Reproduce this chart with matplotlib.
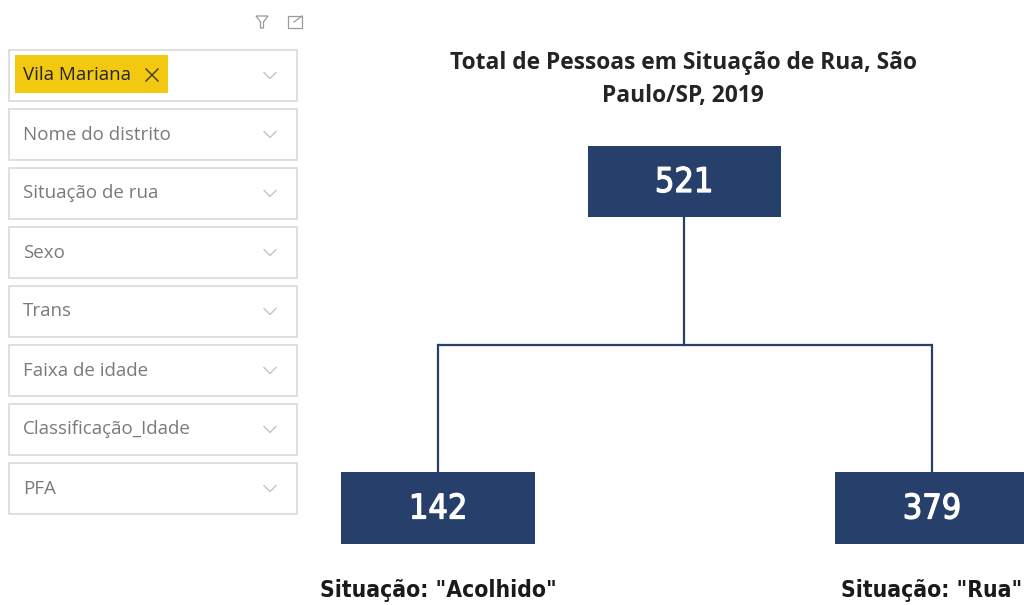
import matplotlib
matplotlib.use("Agg")
import matplotlib.pyplot as plt
import matplotlib.patheffects as pe
from matplotlib.patches import Rectangle, Polygon

# ---- data ----
title_lines = ["Total de Pessoas em Situação de Rua, São", "Paulo/SP, 2019"]
total_value = 521
child_values = [142, 379]
child_labels = ['Situação: "Acolhido"', 'Situação: "Rua"']
slicer_labels = ["Vila Mariana", "Nome do distrito", "Situação de rua", "Sexo",
                 "Trans", "Faixa de idade", "Classificação_Idade", "PFA"]

NAVY = "#263f6b"
num_fx = [pe.withStroke(linewidth=0.9, foreground="white")]

fig = plt.figure(figsize=(10.24, 6.05), dpi=100)
ax = fig.add_axes([0, 0, 1, 1])
ax.set_xlim(0, 1024)
ax.set_ylim(605, 0)
ax.axis("off")

# ---- slicer panel ----
box_x0, box_x1 = 9, 297
box_h = 51
step = 59
for i, lab in enumerate(slicer_labels):
    y0 = 50 + i * step
    ax.add_patch(Rectangle((box_x0, y0), box_x1 - box_x0, box_h, fill=False,
                           edgecolor="#d9d9d9", lw=1.2))
    cy = y0 + box_h / 2
    if i == 0:
        ax.add_patch(Rectangle((15, y0 + 5), 153, box_h - 13, facecolor="#f2c811",
                               edgecolor="none"))
        ax.text(23, cy - 1, lab, fontsize=13.5, family="Open Sans", color="#252423",
                va="center", ha="left")
        # x mark
        ax.plot([146, 158], [y0 + 19, y0 + 31], color="#3a3a3a", lw=1.0)
        ax.plot([146, 158], [y0 + 31, y0 + 19], color="#3a3a3a", lw=1.0)
    else:
        ax.text(23, cy, lab, fontsize=13.5, family="Open Sans", color="#7a7a7a",
                va="center", ha="left")
    # chevron
    ax.plot([264, 270, 276], [cy - 3, cy + 3, cy - 3], color="#c4c4c4", lw=1.0)

# filter icon
ax.add_patch(Polygon([[256, 16], [268, 16], [263.5, 22], [263.5, 28], [260.5, 28], [260.5, 22]],
                     closed=True, fill=False, edgecolor="#9a9a9a", lw=0.9))
# expand icon
ax.add_patch(Rectangle((288, 16), 14, 12, fill=False, edgecolor="#9a9a9a", lw=0.9))
ax.plot([294, 302], [22, 16], color="#9a9a9a", lw=0.9)

# ---- title ----
ax.text(683, 63, title_lines[0], fontsize=16.4, family="Open Sans", fontweight="bold",
        color="#252423", ha="center", va="center")
ax.text(683, 96, title_lines[1], fontsize=16.4, family="Open Sans", fontweight="bold",
        color="#252423", ha="center", va="center")

# ---- tree ----
top_cx, top_y0, top_y1 = 684, 146, 217
ax.add_patch(Rectangle((588, top_y0), 193, top_y1 - top_y0, facecolor=NAVY, edgecolor="none"))
ax.text(top_cx, (top_y0 + top_y1) / 2 + 1, str(total_value), fontsize=24.5, color="white",
        family="DejaVu Sans", fontstretch="condensed", fontweight="normal",
        ha="center", va="center", path_effects=num_fx)

child_cx = [438, 932]
child_y0, child_y1 = 472, 544
hy = 345
ax.plot([top_cx, top_cx], [top_y1, hy], color=NAVY, lw=1.6)
ax.plot([child_cx[0], child_cx[1]], [hy, hy], color=NAVY, lw=1.6, solid_capstyle="butt")
for cx, v, lab in zip(child_cx, child_values, child_labels):
    ax.plot([cx, cx], [hy, child_y0], color=NAVY, lw=1.6)
    ax.add_patch(Rectangle((cx - 97, child_y0), 194, child_y1 - child_y0,
                           facecolor=NAVY, edgecolor="none", clip_on=True))
    ax.text(cx, (child_y0 + child_y1) / 2 + 1, str(v), fontsize=24.5, color="white",
            family="DejaVu Sans", fontstretch="condensed", fontweight="normal",
            ha="center", va="center", path_effects=num_fx)
    ax.text(cx, 590, lab, fontsize=16.4, color="#1a1a1a", family="DejaVu Sans",
            fontstretch="condensed", fontweight="bold", ha="center", va="center")

fig.savefig("out.png", dpi=100, facecolor="white")
